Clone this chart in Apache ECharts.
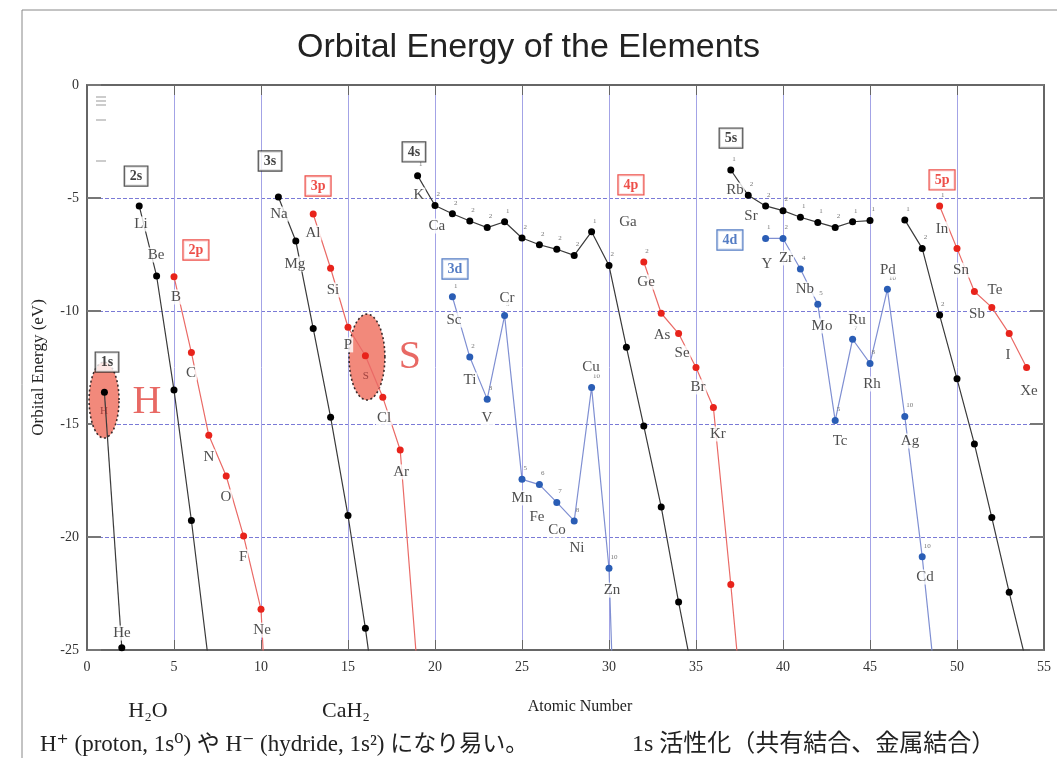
<!DOCTYPE html>
<html><head><meta charset="utf-8">
<script src="https://cdn.jsdelivr.net/npm/echarts@6/dist/echarts.min.js"></script>
<style>html,body{margin:0;padding:0;background:#fff}#c{width:1057px;height:758px}</style>
</head><body><div id="c"></div>
<script>
// ---------- data (energies in eV) ----------
const xTickValues = [0,5,10,15,20,25,30,35,40,45,50,55];
const yTickValues = [0,-5,-10,-15,-20,-25];

const s1s_Z = [1, 2];
const s1s_E = [-13.6, -24.9];

const s2s_Z = [3, 4, 5, 6, 7];
const s2s_E = [-5.35, -8.45, -13.5, -19.27, -25.6];

const s2p_Z = [5, 6, 7, 8, 9, 10, 11];
const s2p_E = [-8.48, -11.84, -15.5, -17.3, -19.96, -23.2, -38];

const s3s_Z = [11, 12, 13, 14, 15, 16, 17];
const s3s_E = [-4.96, -6.9, -10.77, -14.7, -19.05, -24.04, -29.7];

const s3p_Z = [13, 14, 15, 16, 17, 18, 19];
const s3p_E = [-5.71, -8.11, -10.72, -11.98, -13.82, -16.15, -26.0];

const s4s_Z = [19,20,21,22,23,24,25,26,27,28,29,30,31,32,33,34,35];
const s4s_E = [-4.01,-5.33,-5.7,-6.02,-6.31,-6.05,-6.77,-7.07,-7.27,-7.54,-6.49,-7.99,-11.6,-15.09,-18.67,-22.88,-26.8];
const s4s_N = ['1','2','2','2','2','1','2','2','2','2','1','2','','','','',''];

const s3d_Z = [21,22,23,24,25,26,27,28,29,30,31];
const s3d_E = [-9.37,-12.04,-13.9,-10.2,-17.45,-17.68,-18.47,-19.29,-13.38,-21.38,-45];
const s3d_N = ['1','2','3','5','5','6','7','8','10','10',''];

const s4p_Z = [32,33,34,35,36,37,38];
const s4p_E = [-7.83,-10.1,-11.0,-12.5,-14.27,-22.1,-30.5];
const s4p_N = ['2','','','','','',''];

const s5s_Z = [37,38,39,40,41,42,43,44,45,46,47,48,49,50,51,52,53,54];
const s5s_E = [-3.76,-4.88,-5.35,-5.56,-5.85,-6.08,-6.3,-6.05,-6.0,null,-5.97,-7.23,-10.18,-13.0,-15.88,-19.14,-22.45,-25.6];
const s5s_N = ['1','2','2','2','1','1','2','1','1','','1','2','2','','','','',''];

const s4d_Z = [39,40,41,42,43,44,45,46,47,48,49];
const s4d_E = [-6.79,-6.79,-8.14,-9.7,-14.85,-11.25,-12.32,-9.04,-14.67,-20.87,-28.3];
const s4d_N = ['1','2','4','5','5','7','8','10','10','10',''];

const s5p_Z = [49,50,51,52,53,54];
const s5p_E = [-5.35,-7.23,-9.14,-9.84,-11.0,-12.5];
const s5p_N = ['1','','','','',''];

// element symbol labels (anchor in data coordinates)
const elSym = ['H','He','Li','Be','B','C','N','O','F','Ne','Na','Mg','Al','Si','P','S','Cl','Ar','K','Ca','Sc','Ti','V','Cr','Mn','Fe','Co','Ni','Cu','Zn','Ga','Ge','As','Se','Br','Kr','Rb','Sr','Y','Zr','Nb','Mo','Tc','Ru','Rh','Pd','Ag','Cd','In','Sn','Sb','Te','I','Xe'];
const elLabelZ = [0.98,2.01,3.10,3.97,5.11,5.98,7.01,7.99,8.97,10.06,11.03,11.95,12.99,14.14,15.0,16.03,17.07,18.05,19.08,20.11,21.09,22.01,22.99,24.14,25.0,25.86,27.01,28.16,28.97,30.17,31.09,32.13,33.05,34.2,35.11,36.26,37.24,38.16,39.08,40.17,41.26,42.24,43.28,44.25,45.11,46.03,47.3,48.16,49.14,50.23,51.15,52.18,52.93,54.14];
const elLabelE = [-14.42,-24.25,-6.15,-7.52,-9.38,-12.74,-16.46,-18.23,-20.88,-24.12,-5.71,-7.92,-6.55,-9.07,-11.5,-12.88,-14.73,-17.12,-4.87,-6.24,-10.4,-13.05,-14.73,-9.42,-18.27,-19.12,-19.69,-20.49,-12.48,-22.35,-6.06,-8.72,-11.06,-11.86,-13.36,-15.44,-4.65,-5.8,-7.92,-7.65,-9.03,-10.66,-15.75,-10.4,-13.23,-8.19,-15.75,-21.77,-6.37,-8.19,-10.13,-9.07,-11.95,-13.54];

// orbital boxes
const boxText = ['1s','2s','2p','3s','3p','4s','3d','4p','5s','4d','5p'];
const boxKind = ['s','s','p','s','p','s','d','p','s','d','p'];
const boxZ = [1.15,2.82,6.26,10.52,13.28,18.79,21.15,31.26,37.01,36.95,49.14];
const boxE = [-12.26,-4.03,-7.3,-3.36,-4.47,-2.96,-8.14,-4.42,-2.35,-6.86,-4.2];

// highlighted H and S
const hiText = ['H','S'];
const hiZ = [3.45, 18.56];
const hiE = [-14.03, -12.04];
const ellZ = [0.98, 16.09];
const ellE = [-13.94, -12.04];
const ellRZ = [0.86, 1.03];
const ellRE = [1.68, 1.9];

// ---------- styles ----------
const SERIF = '"Liberation Serif","DejaVu Serif",serif';
const SANS = '"Liberation Sans",Arial,sans-serif';
const COL = {
  s: {pt:'#000', line:'#3a3a3a', text:'#111', border:'#222'},
  p: {pt:'#e8231b', line:'#ea6a66', text:'#e8231b', border:'#e8231b'},
  d: {pt:'#2a5db5', line:'#7f8fd2', text:'#2a5db5', border:'#2a5db5'}
};

function pairs(Z, E){ return Z.map((z,i)=> [z, E[i]]); }

function lineSeries(Z, E, kind, counts){
  return {
    type:'line', data: pairs(Z,E), z:4, clip:true, connectNulls:false,
    symbol:'circle', symbolSize:7, animation:false,
    itemStyle:{color:COL[kind].pt},
    lineStyle:{color:COL[kind].line, width:1.2},
    label:{show: !!counts, position:[5,-11], fontSize:7, color:'#777', fontFamily:SERIF,
      formatter: p => counts ? (counts[p.dataIndex]||'') : ''}
  };
}

const chart = echarts.init(document.getElementById('c'), null, {renderer:'canvas'});

const option = {
  backgroundColor:'#fff',
  animation:false,
  title:{text:'Orbital Energy of the Elements', left:'center', top:26,
    textStyle:{fontFamily:SANS, fontSize:34, fontWeight:'normal', color:'#222'}},
  grid:{left:87, right:13, top:85, bottom:108},
  xAxis:[{
    type:'value', min:0, max:55, interval:5, position:'bottom',
    axisLine:{show:true, onZero:false, lineStyle:{color:'#666', width:2}},
    axisTick:{show:true, inside:true, length:10, lineStyle:{color:'#666'}},
    axisLabel:{fontFamily:SERIF, fontSize:14, color:'#333', margin:10},
    splitLine:{show:true, lineStyle:{color:'#a3a3e6', width:1}}
  },{
    type:'value', min:0, max:55, interval:5, position:'top',
    axisLine:{show:true, onZero:false, lineStyle:{color:'#666', width:2}},
    axisTick:{show:true, inside:true, length:10, lineStyle:{color:'#666'}},
    axisLabel:{show:false}, splitLine:{show:false}
  }],
  yAxis:[{
    type:'value', min:-25, max:0, interval:5, position:'left',
    name:'Orbital Energy (eV)', nameLocation:'middle', nameGap:40,
    nameTextStyle:{fontFamily:SERIF, fontSize:17, color:'#222'},
    axisLine:{show:true, onZero:false, lineStyle:{color:'#666', width:2}},
    axisTick:{show:true, inside:true, length:14, lineStyle:{color:'#777', width:2}},
    axisLabel:{fontFamily:SERIF, fontSize:14, color:'#333', margin:8},
    splitLine:{show:true, lineStyle:{color:'#7a7ad6', width:1.2, type:[4,2]}}
  },{
    type:'value', min:-25, max:0, interval:5, position:'right',
    axisLine:{show:true, onZero:false, lineStyle:{color:'#666', width:2}},
    axisTick:{show:true, inside:true, length:14, lineStyle:{color:'#777', width:2}},
    axisLabel:{show:false}, splitLine:{show:false}
  }],
  series:[
    {
      type:'custom', z:2, clip:false, silent:true,
      data: ellZ.map((z,i)=>[z, ellE[i], ellRZ[i], ellRE[i]]),
      renderItem:function(params, api){
        const cx = api.value(0), cy = api.value(1), rx = api.value(2), ry = api.value(3);
        const pts = [];
        for (let i=0;i<72;i++){ const t=i/72*2*Math.PI; pts.push(api.coord([cx+rx*Math.cos(t), cy+ry*Math.sin(t)])); }
        return {type:'polygon', shape:{points:pts},
          style:{fill:'#f2897b', stroke:'#3a2a2a', lineWidth:1.6, lineDash:[2,2.5]}};
      }
    },
    lineSeries(s1s_Z, s1s_E, 's', null),
    lineSeries(s2s_Z, s2s_E, 's', null),
    lineSeries(s2p_Z, s2p_E, 'p', null),
    lineSeries(s3s_Z, s3s_E, 's', null),
    lineSeries(s3p_Z, s3p_E, 'p', null),
    lineSeries(s4s_Z, s4s_E, 's', s4s_N),
    lineSeries(s3d_Z, s3d_E, 'd', s3d_N),
    lineSeries(s4p_Z, s4p_E, 'p', s4p_N),
    lineSeries(s5s_Z, s5s_E, 's', s5s_N),
    lineSeries(s4d_Z, s4d_E, 'd', s4d_N),
    lineSeries(s5p_Z, s5p_E, 'p', s5p_N),
    { // element labels
      type:'scatter', z:6, symbolSize:0, silent:true,
      data: elSym.map((s,i)=>{
        const inEll = (s==='H' || s==='S');
        return {value:[elLabelZ[i], elLabelE[i]], name:s,
          label: inEll ? {fontSize:11, color:'#8a3030', backgroundColor:'transparent'} : {}};
      }),
      label:{show:true, position:'inside', formatter:p=>p.name,
        fontFamily:SERIF, fontSize:15, color:'#222', backgroundColor:'#fff', padding:[0,1]}
    },
    { // orbital boxes
      type:'scatter', z:7, symbolSize:0, silent:true,
      data: boxText.map((t,i)=>({value:[boxZ[i], boxE[i]], name:t,
        label:{color:COL[boxKind[i]].text, borderColor:COL[boxKind[i]].border}})),
      label:{show:true, position:'inside', formatter:p=>p.name,
        fontFamily:SERIF, fontSize:14, fontWeight:'bold', backgroundColor:'#fff',
        borderWidth:1.2, padding:[3,5,2,5]}
    },
    { // big H / S
      type:'scatter', z:7, symbolSize:0, silent:true,
      data: hiText.map((t,i)=>({value:[hiZ[i], hiE[i]], name:t})),
      label:{show:true, position:'inside', formatter:p=>p.name,
        fontFamily:SERIF, fontSize:40, color:'#e2433d'}
    }
  ],
  graphic:[
    {type:'text', x:580, y:707, style:{text:'Atomic Number', fontFamily:SERIF, fontSize:16, fill:'#222', textAlign:'center', textVerticalAlign:'middle'}},
    {type:'text', x:148, y:711, style:{text:'H₂O', fontFamily:SERIF, fontSize:22, fill:'#222', textAlign:'center', textVerticalAlign:'middle'}},
    {type:'text', x:346, y:711, style:{text:'CaH₂', fontFamily:SERIF, fontSize:22, fill:'#222', textAlign:'center', textVerticalAlign:'middle'}},
    {type:'text', x:40, y:745, style:{text:'H⁺ (proton, 1s⁰) や H⁻ (hydride, 1s²) になり易い。', fontFamily:SERIF + ',"Noto Sans CJK JP"', fontSize:23, fill:'#222', textAlign:'left', textVerticalAlign:'middle'}},
    {type:'text', x:632, y:745, style:{text:'1s 活性化（共有結合、金属結合）', fontFamily:SERIF + ',"Noto Sans CJK JP"', fontSize:24, fill:'#222', textAlign:'left', textVerticalAlign:'middle'}},
    {type:'rect', shape:{x:22, y:10, width:1040, height:760}, style:{fill:'none', stroke:'#888', lineWidth:1}},
    {type:'line', shape:{x1:96, y1:97, x2:106, y2:97}, style:{stroke:'#999', lineWidth:1}},
    {type:'line', shape:{x1:96, y1:101, x2:106, y2:101}, style:{stroke:'#999', lineWidth:1}},
    {type:'line', shape:{x1:96, y1:105, x2:106, y2:105}, style:{stroke:'#999', lineWidth:1}},
    {type:'line', shape:{x1:96, y1:120, x2:106, y2:120}, style:{stroke:'#999', lineWidth:1}},
    {type:'line', shape:{x1:96, y1:161, x2:106, y2:161}, style:{stroke:'#999', lineWidth:1}}
  ]
};
chart.setOption(option);
</script>
</body></html>
